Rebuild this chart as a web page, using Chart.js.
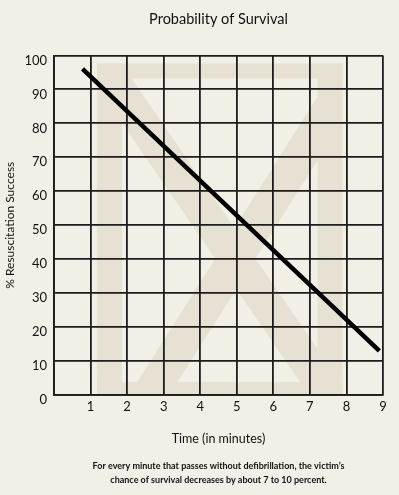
<!DOCTYPE html>
<html>
<head>
<meta charset="utf-8">
<script src="https://cdn.jsdelivr.net/npm/chart.js@4"></script>
<style>
  html, body { margin: 0; padding: 0; background: #f2efe6; }
  #wrap { width: 399px; height: 495px; }
</style>
</head>
<body>
<div id="wrap"><canvas id="survivalChart"></canvas></div>
<script>
// data
const timeTicks = [1, 2, 3, 4, 5, 6, 7, 8, 9];
const successTicks = [0, 10, 20, 30, 40, 50, 60, 70, 80, 90, 100];
const lineMinutes = [0.78, 8.9];
const lineSuccess = [96, 13];

const bgColor = "#f2efe6";
const markColor = "#e6e1d3";

// faded "X" watermark behind the grid, in data units
function drawWatermark(chart) {
  const { ctx, scales } = chart;
  const x = scales.x, y = scales.y;
  const px = (v) => x.getPixelForValue(v);
  const py = (v) => y.getPixelForValue(v);

  ctx.save();
  ctx.fillStyle = bgColor;
  ctx.fillRect(0, 0, chart.width, chart.height);

  const left = px(1.18), right = px(7.89), top = py(97.6), bottom = py(0.3);
  ctx.fillStyle = markColor;
  // frame
  ctx.fillRect(left, top, right - left, py(93.2) - top);          // top bar
  ctx.fillRect(left, py(3.8), right - left, bottom - py(3.8));    // bottom bar
  ctx.fillRect(left, top, px(1.86) - left, bottom - top);         // left bar
  ctx.fillRect(px(7.21), top, right - px(7.21), bottom - top);    // right bar

  // diagonals, clipped to the frame
  ctx.beginPath();
  ctx.rect(left, top, right - left, bottom - top);
  ctx.clip();
  const half = 0.55;
  const bands = [
    [1.29, 97.6, 7.51, 0.3],
    [8.33, 97.6, 2.62, 0.3],
  ];
  bands.forEach((b) => {
    ctx.beginPath();
    ctx.moveTo(px(b[0] - half), py(b[1]));
    ctx.lineTo(px(b[0] + half), py(b[1]));
    ctx.lineTo(px(b[2] + half), py(b[3]));
    ctx.lineTo(px(b[2] - half), py(b[3]));
    ctx.closePath();
    ctx.fill();
  });
  ctx.restore();
}

const watermarkPlugin = {
  id: "watermark",
  beforeDraw: (chart) => drawWatermark(chart),
};

const font = "'Lato', 'Open Sans', sans-serif";

new Chart(document.getElementById("survivalChart"), {
  type: "scatter",
  data: {
    datasets: [
      {
        label: "Probability of Survival",
        data: lineMinutes.map((m, i) => ({ x: m, y: lineSuccess[i] })),
        showLine: true,
        borderColor: "#000",
        borderWidth: 4.5,
        borderCapStyle: "butt",
        pointRadius: 0,
      },
    ],
  },
  options: {
    responsive: true,
    maintainAspectRatio: false,
    animation: false,
    layout: { padding: { left: 0, right: 16, top: 0, bottom: 0 } },
    plugins: {
      legend: { display: false },
      tooltip: { enabled: false },
      title: {
        display: true,
        fullSize: false,
        text: "Probability of Survival",
        color: "#111",
        font: { family: font, size: 14.5, weight: "normal" },
        padding: { top: 11, bottom: 27 },
      },
      subtitle: {
        display: true,
        fullSize: false,
        position: "bottom",
        text: [
          "For every minute that passes without defibrillation, the victim\u2019s",
          "chance of survival decreases by about 7 to 10 percent.",
        ],
        color: "#111",
        font: { family: font, size: 9, weight: "bold", lineHeight: 1.55 },
        padding: { top: 4, bottom: 8 },
      },
    },
    scales: {
      x: {
        type: "linear",
        min: 0,
        max: 9,
        afterBuildTicks: (s) => {
          s.ticks = [0].concat(timeTicks).map((v) => ({ value: v }));
        },
        afterFit: (s) => { s.height = 60; },
        ticks: {
          color: "#111",
          font: { family: font, size: 13 },
          padding: 4,
          callback: (v) => (v === 0 ? "" : v),
        },
        grid: { color: "#1c1c1c", lineWidth: 1.8, drawTicks: false },
        border: { color: "#1c1c1c", width: 1.8 },
        title: {
          display: true,
          text: "Time (in minutes)",
          color: "#111",
          font: { family: font, size: 12.5 },
          padding: { top: 0, bottom: 9 },
        },
      },
      y: {
        type: "linear",
        min: 0,
        max: 100,
        afterBuildTicks: (s) => {
          s.ticks = successTicks.map((v) => ({ value: v }));
        },
        afterFit: (s) => { s.width = 54; },
        ticks: {
          color: "#111",
          font: { family: font, size: 13 },
          padding: 7,
          labelOffset: 5,
        },
        grid: { color: "#1c1c1c", lineWidth: 1.8, drawTicks: false },
        border: { color: "#1c1c1c", width: 1.8 },
        title: {
          display: true,
          text: "% Resuscitation Success",
          color: "#111",
          font: { family: font, size: 12 },
          padding: { top: 3, bottom: 0 },
        },
      },
    },
  },
  plugins: [watermarkPlugin],
});
</script>
</body>
</html>
